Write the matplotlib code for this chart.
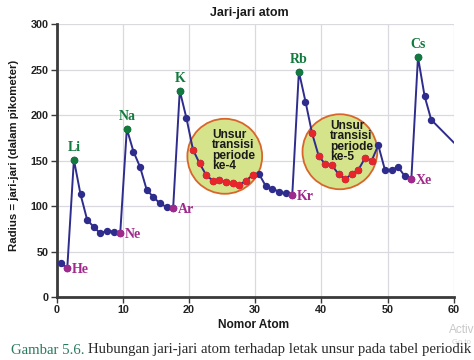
import matplotlib.pyplot as plt
from matplotlib.patches import Ellipse

# atomic number and radius (pm)
nomor = list(range(1, 58))
jari = [37, 32, 151, 113, 85, 77, 70, 73, 72, 70,
        185, 160, 143, 118, 110, 103, 99, 98,
        227, 197, 162, 147, 134, 128, 129, 126, 125, 123, 128, 134,
        135, 122, 119, 116, 114, 112,
        248, 215, 180, 155, 146, 145, 135, 130, 135, 140, 153, 150,
        167, 140, 140, 143, 133, 130,
        264, 221, 195]
# line runs on past the right edge
ujung_nomor = 60.4
ujung_jari = 170

alkali = {"Li": 3, "Na": 11, "K": 19, "Rb": 37, "Cs": 55}
gas_mulia = {"He": 2, "Ne": 10, "Ar": 18, "Kr": 36, "Xe": 54}
transisi = list(range(21, 31)) + list(range(39, 49))

geser = 0.4  # points sit a bit left of their atomic number in the original

navy = "#2e2c8c"
hijau = "#137a3e"
ungu = "#a02a8c"
merah = "#e8262a"

def r(z):
    return jari[z - 1]

fig = plt.figure(figsize=(4.74, 3.6), dpi=100)
ax = fig.add_axes([0.1196, 0.175, 0.8376, 0.7575])

ax.set_xlim(0, 60)
ax.set_ylim(0, 300)
ax.set_xticks([0, 10, 20, 30, 40, 50, 60])
ax.set_yticks([0, 50, 100, 150, 200, 250, 300])
ax.grid(True, color="#d9d9df", lw=0.9)
ax.set_axisbelow(True)
for s in ["top", "right"]:
    ax.spines[s].set_visible(False)
for s in ["left", "bottom"]:
    ax.spines[s].set_color("#3a3a3a")
    ax.spines[s].set_linewidth(2)
ax.tick_params(length=4, width=1, color="#3a3a3a", pad=2)
for lab in ax.get_xticklabels() + ax.get_yticklabels():
    lab.set_fontfamily("Liberation Sans")
    lab.set_fontweight("bold")
    lab.set_fontsize(7.8)
    lab.set_color("#222222")

# the two circles for transition elements
ax.add_patch(Ellipse((25.4, 154.8), 11.3, 82.5, facecolor="#d5e38a",
                     edgecolor="#d8662c", lw=1.3, zorder=1.5))
ax.add_patch(Ellipse((42.8, 159.8), 11.3, 82.5, facecolor="#d5e38a",
                     edgecolor="#d8662c", lw=1.3, zorder=1.5))
ax.text(23.5, 185, "Unsur\ntransisi\nperiode\nke-4", fontsize=8.6,
        fontweight="bold", family="Liberation Sans", color="#1a1a1a",
        ha="left", va="top", linespacing=0.82, zorder=2)
ax.text(41.3, 195, "Unsur\ntransisi\nperiode\nke-5", fontsize=8.6,
        fontweight="bold", family="Liberation Sans", color="#1a1a1a",
        ha="left", va="top", linespacing=0.82, zorder=2)

xs = [z - geser for z in nomor]
ax.plot(xs + [ujung_nomor - geser], jari + [ujung_jari], color=navy,
        lw=1.4, zorder=3, clip_on=True)
ax.plot(xs, jari, "o", color=navy, ms=4.3, zorder=4)
ax.plot([z - geser for z in transisi], [r(z) for z in transisi], "o",
        color=merah, ms=4.3, zorder=5)
ax.plot([z - geser for z in alkali.values()], [r(z) for z in alkali.values()],
        "o", color=hijau, ms=4.5, zorder=5)
ax.plot([z - geser for z in gas_mulia.values()], [r(z) for z in gas_mulia.values()],
        "o", color=ungu, ms=4.5, zorder=5)

for nama, z in alkali.items():
    ax.annotate(nama, (z - geser, r(z)), xytext=(0, 4), textcoords="offset points",
                ha="center", va="bottom", fontsize=10, fontweight="bold",
                family="Liberation Serif", color=hijau, zorder=6)
for nama, z in gas_mulia.items():
    ax.annotate(nama, (z - geser, r(z)), xytext=(3.5, -1), textcoords="offset points",
                ha="left", va="center", fontsize=10, fontweight="bold",
                family="Liberation Serif", color=ungu, zorder=6)

fig.text(249.5 / 474, 1 - 13 / 360, "Jari-jari atom", ha="center", va="center",
         fontsize=9, fontweight="bold", family="Liberation Sans", color="#1a1a1a")
fig.text(253.5 / 474, 1 - 325 / 360, "Nomor Atom", ha="center", va="center",
         fontsize=8.6, fontweight="bold", family="Liberation Sans", color="#1a1a1a")
fig.text(14.5 / 474, 1 - 155.5 / 360, "Radius = jari-jari (dalam pikometer)",
         rotation=90, ha="center", va="center", fontsize=8.2, fontweight="bold",
         family="Liberation Sans", color="#1a1a1a")

# windows watermark in the screenshot
fig.text(449 / 474, 1 - 330 / 360, "Activ", fontsize=8.5, color="#c8c8c8",
         family="Liberation Sans", ha="left", va="center")
fig.text(452 / 474, 1 - 342 / 360, "Go to", fontsize=5.5, color="#d0d0d0",
         family="Liberation Sans", ha="left", va="center")

cap = fig.text(11 / 474, 1 - 350 / 360, "Gambar 5.6.", fontsize=10.6,
               family="Liberation Serif", color="#2a7a5e", ha="left", va="center")
fig.canvas.draw()
bb = cap.get_window_extent()
fig.text((bb.x1 + 3) / 474, 1 - 350 / 360,
         "Hubungan jari-jari atom terhadap letak unsur pada tabel periodik",
         fontsize=10.6, family="Liberation Serif", color="#2b2b2b",
         ha="left", va="center")

fig.savefig("out.png", dpi=100)
